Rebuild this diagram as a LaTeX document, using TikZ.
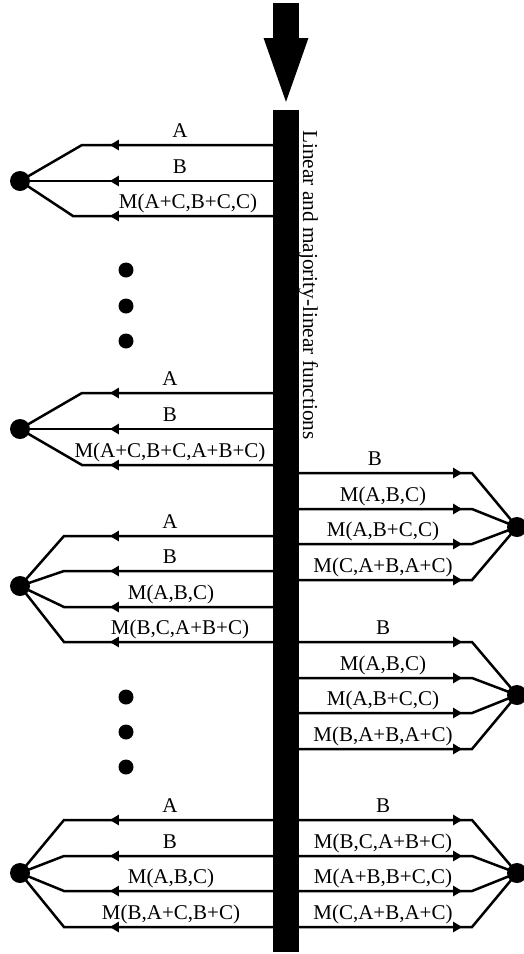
\documentclass[tikz,border=0pt]{standalone}
\usepackage{fontspec}
\setmainfont{Liberation Serif}
\usetikzlibrary{arrows.meta,decorations.markings}
\begin{document}
\begin{tikzpicture}[x=1pt,y=-1pt,
  wire/.style={line width=2.5pt, line join=miter,
    postaction={decorate},
    decoration={markings, mark=at position 163pt with {\arrow{Triangle[length=9pt,width=10pt]}}}},
  lab/.style={font=\fontsize{21}{24}\selectfont, inner sep=0pt, anchor=base},
  hub/.style={circle, fill, minimum size=20pt, inner sep=0pt},
  more/.style={circle, fill, minimum size=15pt, inner sep=0pt}]
\useasboundingbox (0,0) rectangle (523,954);

% central bus and its input arrow
\node[fill, minimum width=26pt, minimum height=842pt, inner sep=0pt, anchor=north] (bar) at (286,110) {};
\coordinate (src) at (286,3);
\draw[line width=26pt, -{Triangle[length=72pt,width=38pt]}] (src) -- (bar.north);
\node[font=\fontsize{21.3}{24}\selectfont, inner sep=0pt, rotate=-90, anchor=base west] (title) at (303,130) {Linear and majority-linear functions};

% hubs
\node[hub] (h1) at (20,181) {};
\node[hub] (h2) at (20,429) {};
\node[hub] (h3) at (20,586) {};
\node[hub] (h4) at (20,873) {};
\node[hub] (r1) at (517,527) {};
\node[hub] (r2) at (517,695) {};
\node[hub] (r3) at (517,873) {};

% ellipsis dots
\node[more] (e1) at (126,270) {};
\node[more] (e2) at (126,306) {};
\node[more] (e3) at (126,341) {};
\node[more] (e4) at (126,697) {};
\node[more] (e5) at (126,732) {};
\node[more] (e6) at (126,767) {};

% left group 1
\draw[wire] (bar.west |- 0,145) -- (82,145) -- (h1.center);
\draw[wire] (bar.west |- 0,181) -- (h1.center);
\draw[wire] (bar.west |- 0,216) -- (73,216) -- (h1.center);
\node[lab] (a1) at (180,137) {A};
\node[lab] (a2) at (180,173) {B};
\node[lab] (a3) at (188,208) {M(A+C,B+C,C)};

% left group 2
\draw[wire] (bar.west |- 0,393) -- (82,393) -- (h2.center);
\draw[wire] (bar.west |- 0,429) -- (h2.center);
\draw[wire] (bar.west |- 0,465) -- (82,465) -- (h2.center);
\node[lab] (b1) at (170,385) {A};
\node[lab] (b2) at (170,421) {B};
\node[lab] (b3) at (170,457) {M(A+C,B+C,A+B+C)};

% left group 3
\draw[wire] (bar.west |- 0,536) -- (64,536) -- (h3.center);
\draw[wire] (bar.west |- 0,571) -- (64,571) -- (h3.center);
\draw[wire] (bar.west |- 0,607) -- (64,607) -- (h3.center);
\draw[wire] (bar.west |- 0,642) -- (64,642) -- (h3.center);
\node[lab] (c1) at (170,528) {A};
\node[lab] (c2) at (170,563) {B};
\node[lab] (c3) at (171,599) {M(A,B,C)};
\node[lab] (c4) at (180,634) {M(B,C,A+B+C)};

% left group 4
\draw[wire] (bar.west |- 0,820) -- (64,820) -- (h4.center);
\draw[wire] (bar.west |- 0,856) -- (64,856) -- (h4.center);
\draw[wire] (bar.west |- 0,891) -- (64,891) -- (h4.center);
\draw[wire] (bar.west |- 0,927) -- (64,927) -- (h4.center);
\node[lab] (d1) at (170,812) {A};
\node[lab] (d2) at (170,848) {B};
\node[lab] (d3) at (171,883) {M(A,B,C)};
\node[lab] (d4) at (171,919) {M(B,A+C,B+C)};

% right group 1
\draw[wire] (bar.east |- 0,473) -- (472,473) -- (r1.center);
\draw[wire] (bar.east |- 0,509) -- (472,509) -- (r1.center);
\draw[wire] (bar.east |- 0,544) -- (472,544) -- (r1.center);
\draw[wire] (bar.east |- 0,580) -- (472,580) -- (r1.center);
\node[lab] (p1) at (375,465) {B};
\node[lab] (p2) at (383,501) {M(A,B,C)};
\node[lab] (p3) at (383,536) {M(A,B+C,C)};
\node[lab] (p4) at (383,572) {M(C,A+B,A+C)};

% right group 2
\draw[wire] (bar.east |- 0,642) -- (472,642) -- (r2.center);
\draw[wire] (bar.east |- 0,678) -- (472,678) -- (r2.center);
\draw[wire] (bar.east |- 0,713) -- (472,713) -- (r2.center);
\draw[wire] (bar.east |- 0,749) -- (472,749) -- (r2.center);
\node[lab] (q1) at (383,634) {B};
\node[lab] (q2) at (383,670) {M(A,B,C)};
\node[lab] (q3) at (383,705) {M(A,B+C,C)};
\node[lab] (q4) at (383,741) {M(B,A+B,A+C)};

% right group 3
\draw[wire] (bar.east |- 0,820) -- (472,820) -- (r3.center);
\draw[wire] (bar.east |- 0,856) -- (472,856) -- (r3.center);
\draw[wire] (bar.east |- 0,891) -- (472,891) -- (r3.center);
\draw[wire] (bar.east |- 0,927) -- (472,927) -- (r3.center);
\node[lab] (s1) at (383,812) {B};
\node[lab] (s2) at (383,848) {M(B,C,A+B+C)};
\node[lab] (s3) at (383,883) {M(A+B,B+C,C)};
\node[lab] (s4) at (383,919) {M(C,A+B,A+C)};
\end{tikzpicture}
\end{document}
